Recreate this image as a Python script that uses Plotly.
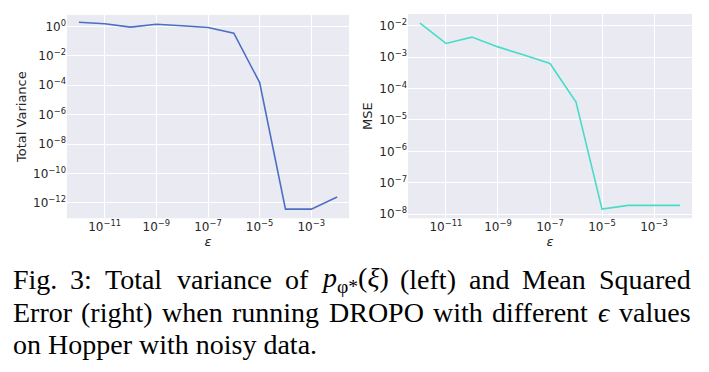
import plotly.graph_objects as go

# ---- data ----
eps = [1e-12, 1e-11, 1e-10, 1e-9, 1e-8, 1e-7, 1e-6, 1e-5, 1e-4, 1e-3, 1e-2]
total_variance = [1.9, 1.5, 0.9, 1.4, 1.1, 0.85, 0.35, 1.5e-4, 3.7e-13, 3.7e-13, 2.5e-12]
mse = [1.2e-2, 2.7e-3, 4.3e-3, 2.1e-3, 1.15e-3, 6.2e-4, 3.7e-5, 1.45e-8, 1.9e-8, 1.9e-8, 1.9e-8]

x_tick_exps = [-11, -9, -7, -5, -3]
left_y_tick_exps = [0, -2, -4, -6, -8, -10, -12]
right_y_tick_exps = [-2, -3, -4, -5, -6, -7, -8]

# caption: list of lines, each a list of (html, plain-text-for-width) words
caption_lines = [
    [("Fig.", "Fig."), ("3:", "3:"), ("Total", "Total"), ("variance", "variance"),
     ("of", "of"), ("<i>p</i><sub>φ*</sub>(<i>ξ</i>)", "p@@(x)"), ("(left)", "(left)"),
     ("and", "and"), ("Mean", "Mean"), ("Squared", "Squared")],
    [("Error", "Error"), ("(right)", "(right)"), ("when", "when"), ("running", "running"),
     ("DROPO", "DROPO"), ("with", "with"), ("different", "different"),
     ("<i>ϵ</i>", "e"), ("values", "values")],
    [("on Hopper with noisy data.", None)],
]

# Times / Liberation Serif advance widths (per 1000 em) for layout of justified caption
TW = {" ": 250, "(": 333, ")": 333, ".": 250, ":": 278, "3": 500, "*": 500,
      "F": 556, "E": 611, "D": 722, "R": 667, "O": 722, "P": 556, "M": 889,
      "S": 556, "T": 611, "H": 722, "@": 350,
      "a": 444, "b": 500, "c": 444, "d": 500, "e": 444, "f": 333, "g": 500,
      "h": 500, "i": 278, "l": 278, "m": 778, "n": 500, "o": 500, "p": 500,
      "q": 500, "r": 333, "s": 389, "t": 278, "u": 500, "v": 500, "w": 722,
      "x": 480, "y": 500}


def lab(e):
    s = str(e).replace("-", "\u2212")
    return "10<sup>" + s + "</sup>"


# the page body has an 8px margin, so the figure is drawn 8px in from the window edge
OFF = 8
WIN_W, WIN_H = 709, 372
W, H = WIN_W - OFF, WIN_H - OFF
BG = "#EAEAF2"
TXT = "#262626"

fig = go.Figure()
fig.add_trace(go.Scatter(x=eps, y=total_variance, mode="lines",
                         line=dict(color="#4C6FC4", width=1.6),
                         xaxis="x", yaxis="y", showlegend=False))
fig.add_trace(go.Scatter(x=eps, y=mse, mode="lines",
                         line=dict(color="#48DCC8", width=1.6),
                         xaxis="x2", yaxis="y2", showlegend=False))


def px_x(a, b):
    return [(a - OFF) / W, (b - OFF) / W]


def px_y(top, bottom):
    return [(H - (bottom - OFF)) / H, (H - (top - OFF)) / H]


tickfont = dict(family="DejaVu Sans", size=12, color=TXT)
common = dict(type="log", showgrid=True, gridcolor="white", gridwidth=1,
              zeroline=False, showline=False, ticks="", tickfont=tickfont,
              title_font=dict(family="DejaVu Sans", size=13, color=TXT))

fig.update_layout(
    width=W, height=H,
    margin=dict(l=0, r=0, t=0, b=0),
    paper_bgcolor="white",
    plot_bgcolor=BG,
    xaxis=dict(domain=px_x(67, 349), range=[-12.46, -1.54],
               tickvals=[10 ** e for e in x_tick_exps],
               ticktext=[lab(e) for e in x_tick_exps],
               title=dict(text="<i>ε</i>", standoff=1), anchor="y", **common),
    yaxis=dict(domain=px_y(15, 220), range=[-13.05, 0.78],
               tickvals=[10 ** e for e in left_y_tick_exps],
               ticktext=[lab(e) for e in left_y_tick_exps],
               title=dict(text="Total Variance", standoff=3), anchor="x", **common),
    xaxis2=dict(domain=px_x(408, 692), range=[-12.46, -1.54],
                tickvals=[10 ** e for e in x_tick_exps],
                ticktext=[lab(e) for e in x_tick_exps],
                title=dict(text="<i>ε</i>", standoff=1), anchor="y2", **common),
    yaxis2=dict(domain=px_y(14, 220), range=[-8.13, -1.63],
                tickvals=[10 ** e for e in right_y_tick_exps],
                ticktext=[lab(e) for e in right_y_tick_exps],
                title=dict(text="MSE", standoff=3), anchor="x2", **common),
)

FS = 28
PAD = 2
LEFT, RIGHT = 14 - OFF - PAD, 692 - OFF - PAD
baselines = [291 - OFF, 324 - OFF, 357 - OFF]


def word_w(s):
    return sum(TW.get(c, 500) for c in s) / 1000 * FS


for words, yb in zip(caption_lines, baselines):
    yc = (H - (yb - 0.33 * FS)) / H
    if len(words) == 1 or words[0][1] is None:
        fig.add_annotation(text=words[0][0], xref="paper", yref="paper",
                           x=LEFT / W, y=yc, xanchor="left", yanchor="middle",
                           showarrow=False, borderpad=0,
                           font=dict(family="Liberation Serif", size=FS, color="black"))
        continue
    widths = [word_w(w[1]) for w in words]
    gap = (RIGHT - LEFT - sum(widths)) / (len(words) - 1)
    x = LEFT
    for (html, _), w in zip(words, widths):
        fig.add_annotation(text=html, xref="paper", yref="paper",
                           x=x / W, y=yc, xanchor="left", yanchor="middle",
                           showarrow=False, borderpad=0,
                           font=dict(family="Liberation Serif", size=FS, color="black"))
        x += w + gap

fig.write_html("out.html")
